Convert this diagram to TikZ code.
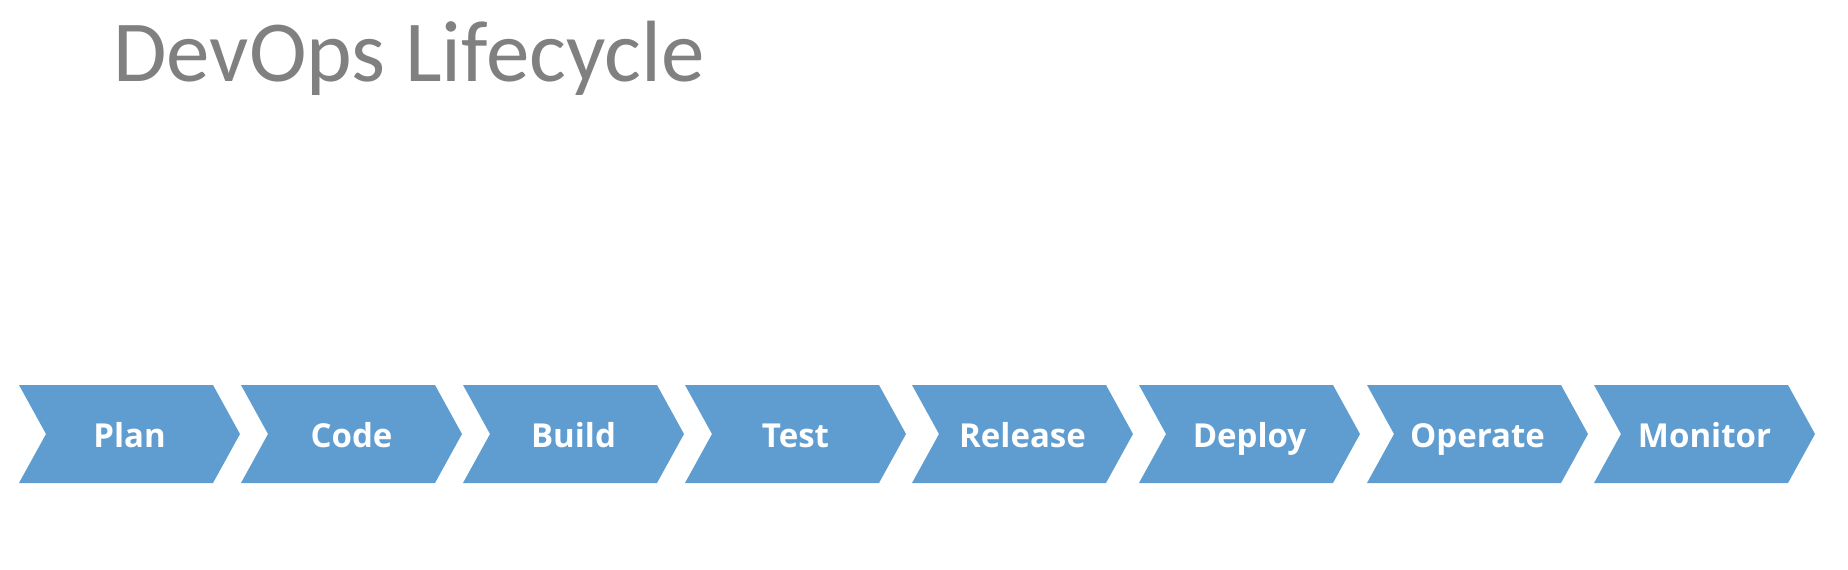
\documentclass[tikz,border=0pt]{standalone}
\usepackage{fontspec}
\newfontfamily\titlefont{Carlito}
\newfontfamily\chevfont{Open Sans}
\definecolor{chev}{RGB}{95,157,209}
\definecolor{titlegray}{RGB}{128,128,128}
\tikzset{
  chevfill/.style={fill=chev, draw=none},
  chevlabel/.style={text=white, font=\chevfont\bfseries\fontsize{33}{36}\selectfont, anchor=base, inner sep=0pt},
}
\newcommand{\chevron}[3]{%
  \fill[chevfill] (#1,385) -- ++(194,0) -- ++(27,49) -- ++(-27,49) -- ++(-194,0) -- ++(27,-49) -- cycle;
  \node[chevlabel] (#3) at (#1+110.5,447) {#2};
}
\begin{document}
\begin{tikzpicture}[x=1pt,y=-1pt]
\useasboundingbox (0,0) rectangle (1848,570);
\node[anchor=base west, inner sep=0pt, text=titlegray, font=\titlefont\fontsize{87}{90}\selectfont] (title) at (113,81) {DevOps Lifecycle};
\chevron{19}{Plan}{plan}
\chevron{241}{Code}{code}
\chevron{463}{Build}{build}
\chevron{685}{Test}{test}
\chevron{912}{Release}{release}
\chevron{1139}{Deploy}{deploy}
\chevron{1367}{Operate}{operate}
\chevron{1594}{Monitor}{monitor}
\end{tikzpicture}
\end{document}
